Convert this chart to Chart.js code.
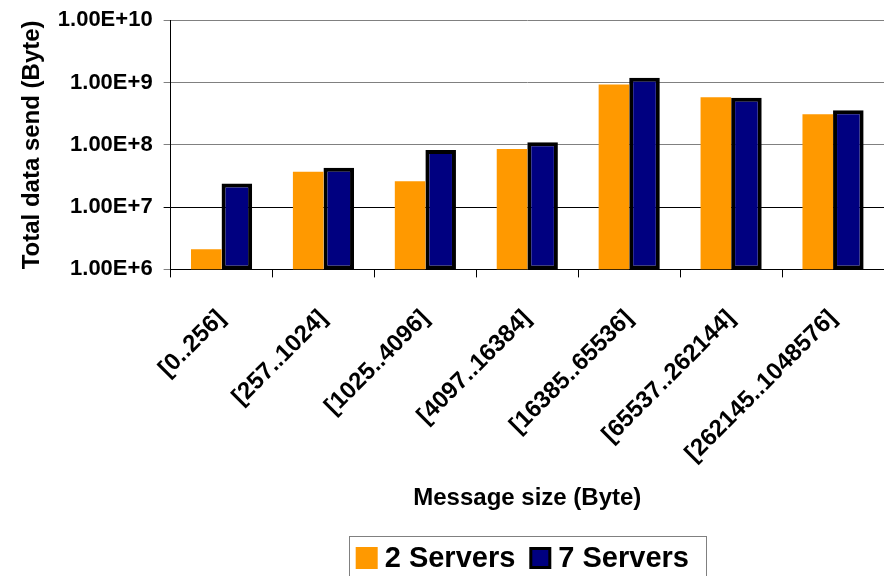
<!DOCTYPE html>
<html>
<head>
<meta charset="utf-8">
<script src="https://cdn.jsdelivr.net/npm/chart.js@4/dist/chart.umd.min.js"></script>
<style>
  body { margin: 0; background: #fff; }
  canvas { display: block; }
</style>
</head>
<body>
<canvas id="grafico" width="884" height="576"></canvas>
<script>
// datos
const categorias = ['[0..256]', '[257..1024]', '[1025..4096]', '[4097..16384]',
    '[16385..65536]', '[65537..262144]', '[262145..1048576]'];
const dosServidores = [2.1e6, 3.7e7, 2.6e7, 8.6e7, 9.3e8, 5.8e8, 3.1e8];
const sieteServidores = [2.4e7, 4.3e7, 8.3e7, 1.1e8, 1.2e9, 5.7e8, 3.6e8];
const ticksY = [1e6, 1e7, 1e8, 1e9, 1e10];

const FUENTE = "'Liberation Sans', Arial, sans-serif";

// leyenda propia, centrada bajo el area del grafico
const leyendaAbajo = {
    id: 'leyendaAbajo',
    afterDraw(chart) {
        const ctx = chart.ctx;
        const area = chart.chartArea;
        const centro = (area.left + area.right) / 2;
        ctx.save();
        ctx.font = 'bold 29px ' + FUENTE;
        const items = chart.data.datasets.map(ds => ({
            texto: ds.label,
            color: ds.backgroundColor,
            borde: ds.borderWidth > 0,
            ancho: ctx.measureText(ds.label).width
        }));
        const cuadro = 22, sep = 7, entre = 14, margenIzq = 7, margenDer = 17;
        let total = margenIzq + margenDer;
        items.forEach((it, i) => { total += cuadro + sep + it.ancho + (i ? entre : 0); });
        const izq = centro - total / 2;
        const arriba = 536;
        ctx.strokeStyle = '#808080';
        ctx.lineWidth = 1;
        ctx.strokeRect(Math.round(izq) + 0.5, arriba + 0.5, Math.round(total), 60);
        let x = izq + margenIzq;
        ctx.textBaseline = 'middle';
        items.forEach((it, i) => {
            if (i) x += entre;
            if (it.borde) {
                ctx.fillStyle = '#000';
                ctx.fillRect(x, 547, cuadro, cuadro);
                ctx.fillStyle = it.color;
                ctx.fillRect(x + 3, 550, cuadro - 6, cuadro - 6);
            } else {
                ctx.fillStyle = it.color;
                ctx.fillRect(x, 547, cuadro, cuadro);
            }
            x += cuadro + sep;
            ctx.fillStyle = '#000';
            ctx.fillText(it.texto, x, 559);
            x += it.ancho;
        });
        ctx.restore();
    }
};

new Chart(document.getElementById('grafico'), {
    type: 'bar',
    data: {
        labels: categorias,
        datasets: [
            {
                label: '2 Servers',
                data: dosServidores,
                backgroundColor: '#FF9900',
                borderWidth: 0
            },
            {
                label: '7 Servers',
                data: sieteServidores,
                backgroundColor: '#000080',
                borderColor: '#000000',
                borderWidth: 4,
                borderSkipped: false
            }
        ]
    },
    options: {
        responsive: false,
        animation: false,
        categoryPercentage: 0.6,
        barPercentage: 1.0,
        layout: { padding: { left: 18, right: 0, top: 0, bottom: 63 } },
        plugins: {
            legend: { display: false },
            tooltip: { enabled: false }
        },
        scales: {
            x: {
                grid: {
                    offset: true,
                    drawOnChartArea: false,
                    color: '#000',
                    tickLength: 8
                },
                border: { color: '#000', width: 1 },
                ticks: {
                    autoSkip: false,
                    minRotation: 45,
                    maxRotation: 45,
                    padding: 27,
                    color: '#000',
                    font: { family: FUENTE, size: 24, weight: 'bold' }
                },
                title: {
                    display: true,
                    text: 'Message size (Byte)',
                    color: '#000',
                    font: { family: FUENTE, size: 24, weight: 'bold' },
                    padding: { top: -11, bottom: 0 }
                }
            },
            y: {
                type: 'logarithmic',
                min: 1e6,
                max: 1e10,
                afterBuildTicks: function (eje) {
                    eje.ticks = ticksY.map(v => ({ value: v }));
                },
                grid: {
                    color: function (c) {
                        return c.tick && c.tick.value === 1e7 ? '#000' : '#808080';
                    },
                    tickLength: 7
                },
                border: { color: '#000', width: 1 },
                ticks: {
                    color: '#000',
                    padding: 11,
                    font: { family: FUENTE, size: 22, weight: 'bold', lineHeight: 0.85 },
                    callback: function (valor) {
                        return Number(valor).toExponential(2).toUpperCase();
                    }
                },
                title: {
                    display: true,
                    text: 'Total data send (Byte)',
                    color: '#000',
                    font: { family: FUENTE, size: 24, weight: 'bold' },
                    padding: { top: 0, bottom: 0 }
                }
            }
        }
    },
    plugins: [leyendaAbajo]
});
</script>
</body>
</html>
